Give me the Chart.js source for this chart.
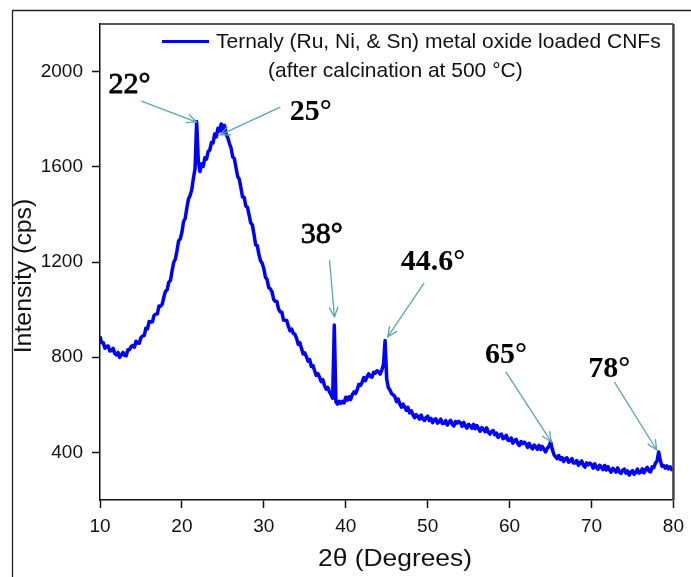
<!DOCTYPE html>
<html>
<head>
<meta charset="utf-8">
<title>XRD pattern – Ternaly metal oxide loaded CNFs</title>
<script src="https://cdn.jsdelivr.net/npm/chart.js@4.4.1/dist/chart.umd.min.js"></script>
<style>
  html, body { margin: 0; padding: 0; background: #fff; }
  #wrap { position: relative; width: 691px; height: 577px; }
</style>
</head>
<body>
<div id="wrap"><canvas id="xrd" width="691" height="577"></canvas></div>
<script>
// Scan settings: 2θ from 10° to 80° in 0.2° steps
const scanStart = 10;
const scanStep = 0.2;

// Measured intensity (cps), one value per step (each row covers 2°)
const intensity = [
  887, 861, 861, 838, 845, 847, 826, 828, 837, 816,
  810, 820, 799, 810, 820, 807, 806, 831, 831, 845,
  849, 842, 867, 860, 859, 883, 889, 891, 922, 920,
  950, 948, 949, 976, 981, 982, 1015, 1014, 1023, 1054,
  1077, 1083, 1115, 1122, 1163, 1199, 1212, 1248, 1289, 1297,
  1325, 1370, 1383, 1427, 1465, 1479, 1503, 1552, 1591, 1790,
  1625, 1580, 1612, 1602, 1638, 1632, 1664, 1670, 1702, 1700,
  1738, 1726, 1762, 1750, 1780, 1742, 1774, 1736, 1722, 1698,
  1679, 1641, 1635, 1597, 1560, 1548, 1512, 1473, 1472, 1435,
  1430, 1398, 1364, 1356, 1316, 1272, 1269, 1232, 1205, 1195,
  1172, 1136, 1126, 1092, 1087, 1074, 1043, 1035, 1034, 1002,
  990, 989, 956, 955, 954, 929, 911, 918, 900, 896,
  879, 854, 861, 836, 814, 818, 802, 783, 790, 761,
  765, 743, 724, 731, 716, 697, 706, 681, 666, 673,
  655, 642, 628, 935, 612, 603, 615, 606, 614, 608,
  632, 620, 634, 622, 643, 654, 647, 663, 686, 681,
  695, 714, 701, 718, 730, 719, 716, 737, 733, 743,
  739, 729, 746, 768, 870, 708, 672, 662, 646, 642,
  634, 613, 624, 603, 590, 603, 591, 576, 589, 566,
  575, 559, 546, 559, 551, 540, 557, 541, 534, 546,
  552, 534, 543, 525, 537, 541, 523, 528, 540, 521,
  522, 534, 515, 527, 535, 518, 511, 530, 523, 530,
  524, 509, 526, 511, 502, 518, 511, 501, 518, 500,
  513, 500, 489, 504, 498, 487, 503, 485, 477, 488,
  492, 474, 481, 463, 473, 477, 458, 461, 472, 451,
  450, 461, 439, 450, 455, 437, 429, 446, 437, 443,
  436, 421, 438, 423, 415, 431, 423, 413, 430, 412,
  425, 412, 402, 418, 424, 445, 414, 392, 382, 374,
  387, 370, 378, 361, 373, 377, 359, 363, 374, 355,
  355, 366, 346, 357, 364, 346, 338, 356, 348, 355,
  349, 334, 352, 337, 329, 346, 338, 328, 345, 326,
  340, 327, 317, 333, 327, 317, 335, 318, 312, 325,
  330, 313, 322, 305, 317, 323, 308, 315, 330, 313,
  317, 331, 314, 328, 337, 322, 318, 340, 336, 354,
  364, 402, 366, 342, 345, 334, 343, 331, 339, 328,
  334
];

const xTicks = [10, 20, 30, 40, 50, 60, 70, 80];
const yTicks = [400, 800, 1200, 1600, 2000];

const seriesName = 'Ternaly (Ru, Ni, & Sn) metal oxide loaded CNFs';
const seriesNote = '(after calcination at 500 \u00B0C)';

// Peak callouts in data units: label anchor, arrow tail and arrow tip
const peakNotes = [
  { text: '22\u00B0',   bold: false, at: [13.6, 1910],  from: [15.05, 1876], to: [21.79, 1788] },
  { text: '25\u00B0',   bold: true,  at: [35.74, 1797], from: [32.01, 1851], to: [24.67, 1734] },
  { text: '38\u00B0',   bold: false, at: [37.06, 1280], from: [38.02, 1208], to: [38.62, 969] },
  { text: '44.6\u00B0', bold: true,  at: [50.65, 1166], from: [49.57, 1112], to: [45.12, 885] },
  { text: '65\u00B0',   bold: true,  at: [59.55, 776],  from: [59.55, 738],  to: [65.09, 444] },
  { text: '78\u00B0',   bold: true,  at: [72.18, 717],  from: [72.79, 696],  to: [77.96, 410] }
];

const points = intensity.map((v, i) => ({ x: +(scanStart + i * scanStep).toFixed(1), y: v }));

const SANS = '"Liberation Sans", Arial, sans-serif';
const SERIF = '"Liberation Serif", "Times New Roman", serif';
const ARROW = '#5aa6b2';

/**
 * Draw an open arrowhead arrow from (x0,y0) to (x1,y1)
 */
function drawArrow(ctx, x0, y0, x1, y1) {
  const ang = Math.atan2(y1 - y0, x1 - x0);
  const head = 11;
  const spread = 0.42;
  ctx.beginPath();
  ctx.moveTo(x0, y0);
  ctx.lineTo(x1, y1);
  ctx.moveTo(x1 - head * Math.cos(ang - spread), y1 - head * Math.sin(ang - spread));
  ctx.lineTo(x1, y1);
  ctx.lineTo(x1 - head * Math.cos(ang + spread), y1 - head * Math.sin(ang + spread));
  ctx.stroke();
}

/**
 * Write a label stretched a little along its baseline
 */
function wideText(ctx, text, x, y, stretch) {
  ctx.save();
  ctx.translate(x, y);
  ctx.scale(stretch, 1);
  ctx.fillText(text, 0, 0);
  ctx.restore();
}

// Frames, axis titles, two-line legend and peak callouts
const decor = {
  id: 'decor',
  afterDraw(chart) {
    const { ctx, chartArea: a, scales } = chart;
    const xs = scales.x, ys = scales.y;
    ctx.save();

    // plot box: top and right edges
    ctx.strokeStyle = '#222';
    ctx.lineWidth = 1.5;
    ctx.beginPath();
    ctx.moveTo(a.left, a.top);
    ctx.lineTo(a.right, a.top);
    ctx.stroke();
    ctx.strokeStyle = '#444';
    ctx.lineWidth = 2.5;
    ctx.beginPath();
    ctx.moveTo(a.right, a.top);
    ctx.lineTo(a.right, a.bottom);
    ctx.stroke();

    // outer figure frame
    ctx.strokeStyle = '#222';
    ctx.lineWidth = 1.3;
    ctx.beginPath();
    ctx.moveTo(chart.width, 10.5);
    ctx.lineTo(12.5, 10.5);
    ctx.lineTo(12.5, chart.height);
    ctx.stroke();

    // axis titles
    ctx.fillStyle = '#111';
    ctx.textAlign = 'center';
    ctx.textBaseline = 'middle';
    ctx.font = '24px ' + SANS;
    wideText(ctx, '2\u03B8 (Degrees)', 395, 559, 1.1);
    ctx.save();
    ctx.translate(25, 276);
    ctx.rotate(-Math.PI / 2);
    ctx.font = '23px ' + SANS;
    wideText(ctx, 'Intensity (cps)', 0, 0, 1.08);
    ctx.restore();

    // legend
    const ds = chart.data.datasets[0];
    ctx.strokeStyle = ds.borderColor;
    ctx.lineWidth = 3;
    ctx.beginPath();
    ctx.moveTo(162, 41.5);
    ctx.lineTo(209, 41.5);
    ctx.stroke();
    ctx.font = '21px ' + SANS;
    ctx.textAlign = 'left';
    ctx.textBaseline = 'alphabetic';
    ctx.fillText(ds.label, 216, 48);
    ctx.fillText(seriesNote, 268, 77);

    // peak callouts; regular-weight labels get a thin outline to thicken them
    ctx.textAlign = 'center';
    peakNotes.forEach(n => {
      const lx = xs.getPixelForValue(n.at[0]);
      const ly = ys.getPixelForValue(n.at[1]);
      ctx.fillStyle = '#000';
      ctx.font = (n.bold ? 'bold ' : '') + '30px ' + SERIF;
      ctx.fillText(n.text, lx, ly);
      if (!n.bold) {
        ctx.strokeStyle = '#000';
        ctx.lineWidth = 0.8;
        ctx.strokeText(n.text, lx, ly);
      }
      ctx.strokeStyle = ARROW;
      ctx.lineWidth = 1.3;
      drawArrow(ctx,
        xs.getPixelForValue(n.from[0]), ys.getPixelForValue(n.from[1]),
        xs.getPixelForValue(n.to[0]), ys.getPixelForValue(n.to[1]));
    });

    ctx.restore();
  }
};

const axisGrid = {
  drawOnChartArea: false,
  drawTicks: true,
  tickLength: 8,
  tickWidth: 1.5,
  tickColor: '#111'
};

new Chart(document.getElementById('xrd'), {
  type: 'line',
  data: {
    datasets: [{
      label: seriesName,
      data: points,
      borderColor: '#0000ff',
      borderWidth: 3.5,
      borderJoinStyle: 'round',
      pointRadius: 0,
      tension: 0,
      fill: false
    }]
  },
  options: {
    responsive: false,
    animation: false,
    devicePixelRatio: 1,
    layout: { padding: { top: 24, right: 9, left: 0, bottom: 0 } },
    plugins: {
      legend: { display: false },
      tooltip: { enabled: false }
    },
    scales: {
      x: {
        type: 'linear',
        min: 10,
        max: 80,
        afterBuildTicks: s => { s.ticks = xTicks.map(v => ({ value: v })); },
        afterFit: s => { s.height = 77; },
        ticks: { color: '#111', padding: 7, font: { family: SANS, size: 19 }, callback: v => String(v) },
        grid: axisGrid,
        border: { display: true, color: '#111', width: 1.5 }
      },
      y: {
        type: 'linear',
        min: 200,
        max: 2200,
        afterBuildTicks: s => { s.ticks = yTicks.map(v => ({ value: v })); },
        afterFit: s => { s.width = 100; },
        ticks: { color: '#111', padding: 9, font: { family: SANS, size: 19 }, callback: v => String(v) },
        grid: axisGrid,
        border: { display: true, color: '#111', width: 1.5 }
      }
    }
  },
  plugins: [decor]
});
</script>
</body>
</html>
